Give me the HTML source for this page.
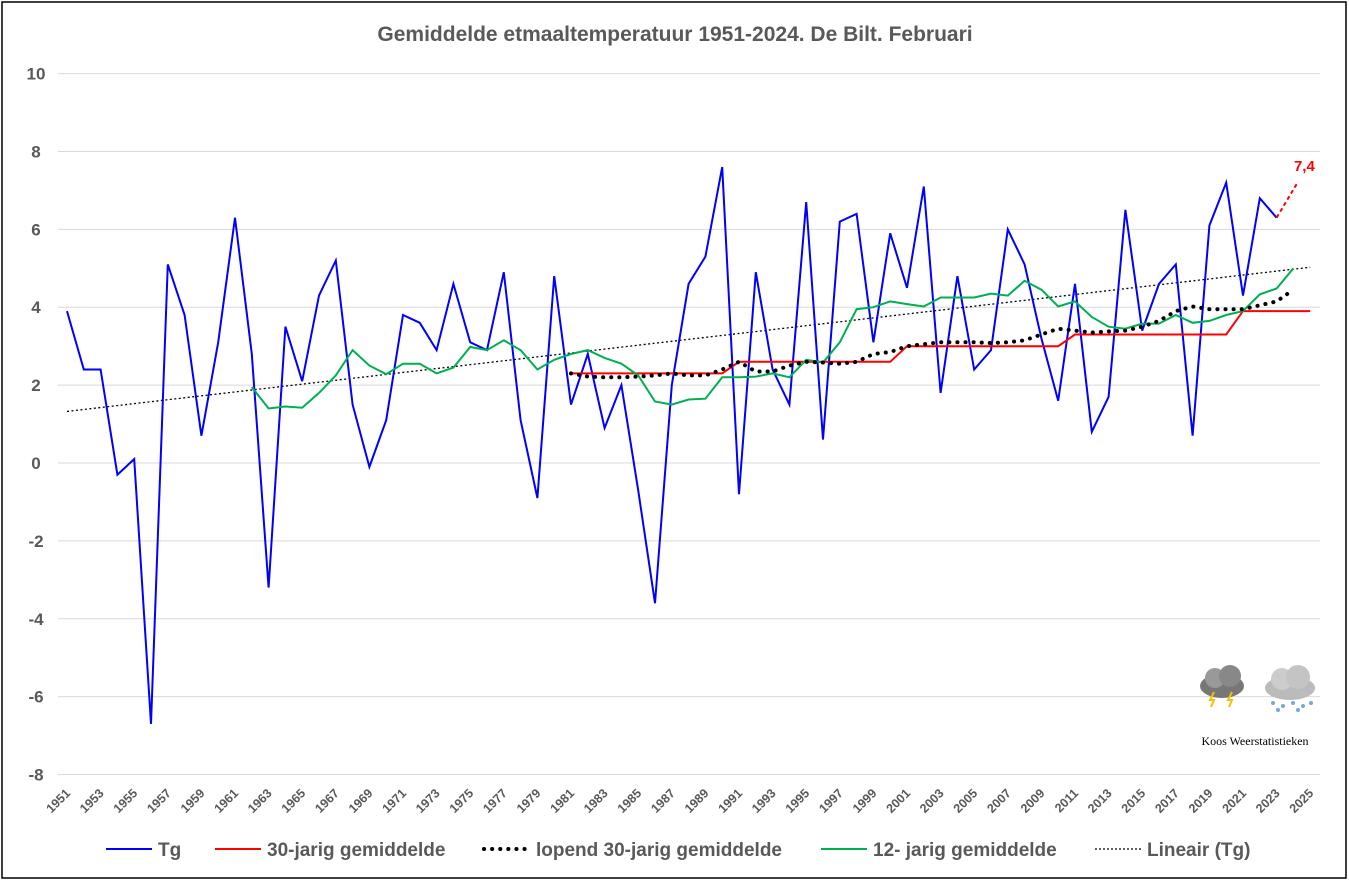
<!DOCTYPE html>
<html><head><meta charset="utf-8"><style>
body{margin:0;background:#fff}
svg{display:block;font-family:"Liberation Sans",sans-serif}
</style></head><body>
<svg id="chart" width="1349" height="880">
<rect x="2" y="2" width="1344" height="876" fill="#fff" stroke="#000" stroke-width="1.5"/>
<text x="675" y="41" text-anchor="middle" font-size="21" font-weight="bold" fill="#595959">Gemiddelde etmaaltemperatuur 1951-2024. De Bilt. Februari</text>
<g id="grid"></g><g id="series"></g><g id="axes"></g>
<g font-size="19" font-weight="bold" fill="#595959">
<line x1="106" y1="849" x2="152" y2="849" stroke="#0000ff" stroke-width="2"/><text x="158" y="856">Tg</text>
<line x1="215" y1="849" x2="261" y2="849" stroke="#ff0000" stroke-width="2"/><text x="267" y="856">30-jarig gemiddelde</text>
<line x1="484" y1="849" x2="530" y2="849" stroke="#000" stroke-width="4" stroke-dasharray="0.1 8" stroke-linecap="round"/><text x="536" y="856">lopend 30-jarig gemiddelde</text>
<line x1="821" y1="849" x2="867" y2="849" stroke="#00b050" stroke-width="2"/><text x="873" y="856">12- jarig gemiddelde</text>
<line x1="1095" y1="849" x2="1141" y2="849" stroke="#000" stroke-width="1.3" stroke-dasharray="2 2"/><text x="1147" y="856">Lineair (Tg)</text>
</g>
<g>
<ellipse cx="1222" cy="686" rx="22" ry="12" fill="#777"/><circle cx="1215" cy="678" r="10" fill="#999"/><circle cx="1230" cy="676" r="11" fill="#888"/>
<path d="M1214 692 l-4 8 h4 l-3 7 M1232 692 l-4 8 h4 l-3 7" stroke="#f2c200" stroke-width="2" fill="none"/>
<ellipse cx="1290" cy="688" rx="25" ry="12" fill="#bbb"/><circle cx="1282" cy="679" r="11" fill="#ccc"/><circle cx="1298" cy="677" r="12" fill="#c4c4c4"/>
<g fill="#7aa6d8"><circle cx="1273" cy="703" r="2"/><circle cx="1283" cy="706" r="2"/><circle cx="1293" cy="703" r="2"/><circle cx="1303" cy="706" r="2"/><circle cx="1311" cy="703" r="2"/><circle cx="1278" cy="710" r="2"/><circle cx="1298" cy="710" r="2"/></g>
<text x="1255" y="745" text-anchor="middle" font-family="Liberation Serif,serif" font-size="12" fill="#000">Koos Weerstatistieken</text>
</g>
</svg>
<script>
const years=[];for(let y=1951;y<=2023;y++)years.push(y);
const tg=[3.9,2.4,2.4,-0.3,0.1,-6.7,5.1,3.8,0.7,3.1,6.3,2.8,-3.2,3.5,2.1,4.3,5.2,1.5,-0.1,1.1,3.8,3.6,2.9,4.6,3.1,2.9,4.9,1.1,-0.9,4.8,1.5,2.8,0.9,2.0,-0.7,-3.6,2.0,4.6,5.3,7.6,-0.8,4.9,2.4,1.5,6.7,0.6,6.2,6.4,3.1,5.9,4.5,7.1,1.8,4.8,2.4,2.9,6.0,5.1,3.2,1.6,4.6,0.8,1.7,6.5,3.4,4.6,5.1,0.7,6.1,7.2,4.3,6.8,6.3];
const lastYear=2024, lastValue=7.4;
const green=[1.95,1.4,1.45,1.42,1.8,2.25,2.9,2.5,2.28,2.55,2.55,2.3,2.45,2.98,2.9,3.15,2.9,2.4,2.65,2.8,2.9,2.7,2.55,2.25,1.58,1.5,1.63,1.65,2.2,2.2,2.22,2.3,2.2,2.65,2.58,3.1,3.95,4.0,4.15,4.08,4.02,4.25,4.25,4.25,4.35,4.3,4.68,4.45,4.02,4.15,3.75,3.5,3.45,3.58,3.58,3.8,3.6,3.65,3.8,3.9,4.33,4.48,5.0];
const greenStart=1962;
const red=[2.3,2.3,2.3,2.3,2.3,2.3,2.3,2.3,2.3,2.3,2.6,2.6,2.6,2.6,2.6,2.6,2.6,2.6,2.6,2.6,3.0,3.0,3.0,3.0,3.0,3.0,3.0,3.0,3.0,3.0,3.3,3.3,3.3,3.3,3.3,3.3,3.3,3.3,3.3,3.3,3.9,3.9,3.9,3.9,3.9];
const redStart=1981;
const running=[2.3,2.22,2.2,2.2,2.22,2.25,2.3,2.25,2.25,2.4,2.6,2.35,2.35,2.5,2.6,2.58,2.55,2.6,2.8,2.85,3.0,3.05,3.1,3.1,3.1,3.08,3.1,3.15,3.3,3.45,3.4,3.35,3.38,3.4,3.5,3.65,3.9,4.02,3.95,3.95,3.95,4.05,4.15,4.45];
const runStart=1981;
const yTicks=[10,8,6,4,2,0,-2,-4,-6,-8];
const xTicks=[];for(let y=1951;y<=2025;y+=2)xTicks.push(y);

const X=y=>67+(y-1951)*16.8;
const Y=v=>463-v*38.94;
const NS='http://www.w3.org/2000/svg';
function mk(tag,attrs,parent){const e=document.createElementNS(NS,tag);for(const k in attrs)e.setAttribute(k,attrs[k]);document.getElementById(parent).appendChild(e);return e;}
yTicks.forEach(t=>{
  const l=mk('line',{x1:58,x2:1320,y1:Y(t),y2:Y(t),stroke:'#d9d9d9','stroke-width':1},'grid');
  
  
  const tx=mk('text',{x:36,y:Y(t)+6,'text-anchor':'middle','font-size':17,'font-weight':'bold',fill:'#595959'},'axes');
  tx.textContent=t;
  
  
});
xTicks.forEach(y=>{
  const x=X(y)+4, yy=794;
  const tx=mk('text',{x:x,y:yy,'text-anchor':'end','font-size':12.5,'font-weight':'bold',fill:'#595959',transform:`rotate(-45 ${x} ${yy})`},'axes');
  tx.textContent=y;
  
  
});
function pts(arr,start){return arr.map((v,i)=>X(start+i).toFixed(1)+','+Y(v).toFixed(1)).join(' ');}
let n=tg.length,sx=0,sy=0,sxx=0,sxy=0;years.forEach((y,i)=>{sx+=y;sy+=tg[i];sxx+=y*y;sxy+=y*tg[i];});
const b=(n*sxy-sx*sy)/(n*sxx-sx*sx),a=(sy-b*sx)/n;
let p=mk('line',{x1:X(1951),y1:Y(a+b*1951)+3,x2:X(2025),y2:Y(a+b*2025)-6,stroke:'#000','stroke-width':1.3,'stroke-dasharray':'2 2.5'},'series');


p=mk('polyline',{points:pts(tg,1951),fill:'none',stroke:'#0000ff','stroke-width':2},'series');


p=mk('polyline',{points:pts(red,redStart),fill:'none',stroke:'#ff0000','stroke-width':2},'series');


p=mk('polyline',{points:pts(green,greenStart),fill:'none',stroke:'#00b050','stroke-width':2},'series');


p=mk('polyline',{points:pts(running,runStart),fill:'none',stroke:'#000','stroke-width':4,'stroke-dasharray':'0.1 8','stroke-linecap':'round'},'series');


p=mk('line',{x1:X(2023),y1:Y(tg[tg.length-1]),x2:X(lastYear)+4,y2:Y(lastValue)+8,stroke:'#ff0000','stroke-width':2,'stroke-dasharray':'4 3'},'series');


p=mk('text',{x:X(lastYear)+11,y:Y(lastValue)-4,'text-anchor':'middle','font-size':15,'font-weight':'bold',fill:'#ff0000'},'series');
p.textContent=String(lastValue).replace('.',',');


</script>
</body></html>
